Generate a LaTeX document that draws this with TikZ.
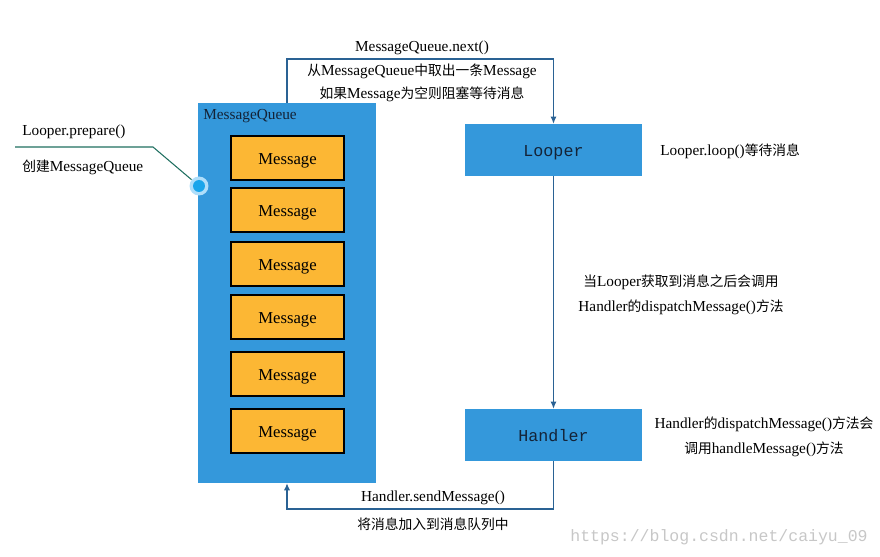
\documentclass[tikz,border=0pt]{standalone}
\usepackage{fontspec}
\setmainfont{Liberation Serif}
\setmonofont{Liberation Mono}
\newfontfamily\cjk[Scale=0.9]{Noto Sans CJK SC}
\newcommand{\zh}[1]{{\cjk #1}}
\usetikzlibrary{arrows.meta}

\definecolor{qblue}{RGB}{52,152,219}
\definecolor{msgorange}{RGB}{252,183,52}
\definecolor{linkblue}{RGB}{42,98,148}
\definecolor{notegreen}{RGB}{30,110,95}
\definecolor{boxtext}{RGB}{20,35,55}
\definecolor{pinglow}{RGB}{175,222,250}
\definecolor{pincore}{RGB}{25,165,235}

\tikzset{
    queuebox/.style={fill=qblue, minimum width=3.56cm, minimum height=7.6cm, inner sep=0pt},
    msgbox/.style={draw=black, line width=0.6pt, fill=msgorange, minimum width=2.26cm,
                   minimum height=0.88cm, text height=7pt, text depth=0pt,
                   font=\fontsize{9.5}{11}\selectfont},
    stagebox/.style={fill=qblue, minimum width=3.54cm, minimum height=1.04cm, text=boxtext,
                     text height=7.5pt, text depth=0pt,
                     font=\ttfamily\fontsize{9.5}{11}\selectfont},
    flow/.style={draw=linkblue, line width=0.6pt, -{Latex[length=4pt,width=3.5pt]}},
    note/.style={font=\fontsize{8.7}{10}\selectfont, inner sep=0pt}
}

\begin{document}
\begin{tikzpicture}[x=0.02cm, y=-0.02cm]
    \useasboundingbox (0,0) rectangle (880,557);

    % queue with its messages
    \node[queuebox] (mq) at (287,293) {};
    \node[note, anchor=west, text=boxtext] (mqlabel) at (203,116) {MessageQueue};
    \foreach \name/\y in {m1/158, m2/210, m3/264, m4/317, m5/374, m6/431}
        \node[msgbox] (\name) at (287.5,\y) {Message};

    % looper and handler
    \node[stagebox] (looper)  at (553.5,150) {Looper};
    \node[stagebox] (handler) at (553.5,435) {Handler};

    \coordinate (topturn) at (553.5,59);
    \coordinate (botturn) at (553.5,509);
    \draw[flow] (mq.north) |- (topturn) -- (looper.north);
    \draw[flow] (looper.south) -- (handler.north);
    \draw[flow] (handler.south) -- (botturn) -| (mq.south);

    % labels
    \node[note] (nextcall) at (422,48) {MessageQueue.next()};
    \node[note] (nextdo)   at (422,71) {\zh{从}MessageQueue\zh{中取出一条}Message};
    \node[note] (nextwait) at (422,94) {\zh{如果}Message\zh{为空则阻塞等待消息}};
    \node[note, anchor=west] (loopnote) at (660,151) {Looper.loop()\zh{等待消息}};
    \node[note] (dispatch1) at (681,282) {\zh{当}Looper\zh{获取到消息之后会调用}};
    \node[note] (dispatch2) at (681,307) {Handler\zh{的}dispatchMessage()\zh{方法}};
    \node[note] (handle1) at (764,424) {Handler\zh{的}dispatchMessage()\zh{方法会}};
    \node[note] (handle2) at (764,449) {\zh{调用}handleMessage()\zh{方法}};
    \node[note] (sendcall) at (433,498) {Handler.sendMessage()};
    \node[note] (senddo)   at (433,524) {\zh{将消息加入到消息队列中}};

    % prepare callout
    \node[circle, fill=pinglow, inner sep=0pt, minimum size=0.38cm] (pin) at (199,186) {};
    \fill[pincore] (pin.center) circle (0.12cm);
    \coordinate (calloutstart) at (15,147);
    \coordinate (calloutbend) at (153,147);
    \draw[notegreen, line width=0.6pt] (calloutstart) -- (calloutbend) -- (pin);
    \node[note, anchor=west] (preparecall) at (22,132) {Looper.prepare()};
    \node[note, anchor=west] (preparedo)   at (22,167) {\zh{创建}MessageQueue};

    % watermark
    \node[text=black!22, font=\ttfamily\fontsize{9.4}{11}\selectfont, inner sep=0pt] (mark) at (719,537) {https://blog.csdn.net/caiyu\_09};
\end{tikzpicture}
\end{document}
